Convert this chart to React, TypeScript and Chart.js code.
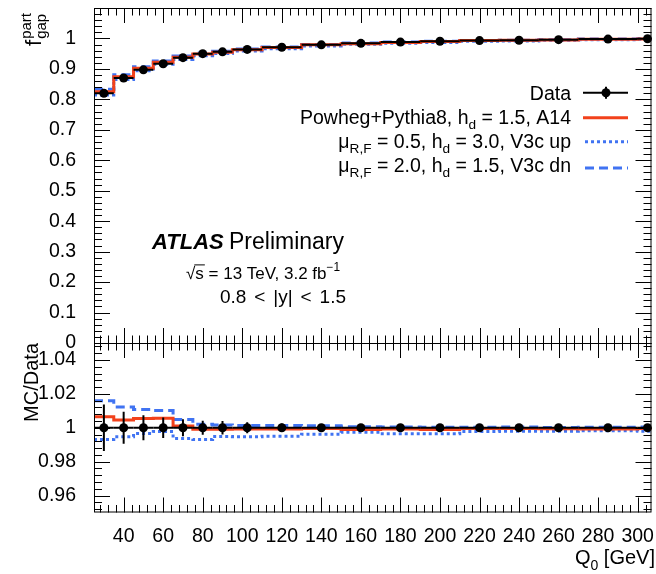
import React, { useEffect, useRef } from "react";
import { Chart, registerables } from "chart.js";
Chart.register(...registerables);

const FONT = '"Liberation Sans", Arial, Helvetica, sans-serif';
const RED = "#f2411b";
const BLUE = "#4073f2";

// ---- data ----
const binEdges = [25, 35, 45, 55, 65, 75, 85, 95, 110, 130, 150, 170, 190, 210, 230, 250, 270, 300, 310];
const binCenters = [30, 40, 50, 60, 70, 80, 90, 102.5, 120, 140, 160, 180, 200, 220, 240, 260, 285, 305];

const dataGap = [0.82, 0.87, 0.897, 0.917, 0.937, 0.95, 0.956, 0.964, 0.971, 0.979, 0.984, 0.988, 0.991, 0.993, 0.994, 0.996, 0.998, 0.999];
const dataGapErr = [0.011, 0.008, 0.0066, 0.0055, 0.0047, 0.004, 0.0038, 0.0032, 0.0024, 0.002, 0.0016, 0.0015, 0.0014, 0.0014, 0.0014, 0.0014, 0.0012, 0.0015];
const powhegGap = [0.825, 0.874, 0.902, 0.922, 0.938, 0.949, 0.955, 0.963, 0.97, 0.979, 0.983, 0.987, 0.99, 0.993, 0.994, 0.995, 0.997, 0.998];
const upGap = [0.814, 0.865, 0.894, 0.915, 0.931, 0.943, 0.951, 0.959, 0.966, 0.975, 0.981, 0.984, 0.987, 0.991, 0.992, 0.994, 0.996, 0.997];
const dnGap = [0.833, 0.881, 0.907, 0.926, 0.942, 0.952, 0.958, 0.965, 0.972, 0.98, 0.985, 0.988, 0.991, 0.993, 0.994, 0.996, 0.998, 0.999];

const dataRatio = [1, 1, 1, 1, 1, 1, 1, 1, 1, 1, 1, 1, 1, 1, 1, 1, 1, 1];
const dataRatioErr = [0.0137, 0.0094, 0.0074, 0.006, 0.005, 0.0042, 0.004, 0.0033, 0.0025, 0.002, 0.0016, 0.0015, 0.0014, 0.0014, 0.0014, 0.0014, 0.0012, 0.0015];
const powhegRatio = [1.0065, 1.0045, 1.0055, 1.0056, 1.001, 0.9991, 0.9991, 0.9993, 0.9993, 0.9995, 0.999, 0.9992, 0.999, 0.9995, 0.9996, 0.9994, 0.9993, 0.9995];
const upRatio = [0.9931, 0.9947, 0.9966, 0.9978, 0.9937, 0.9931, 0.9948, 0.9947, 0.995, 0.9962, 0.9974, 0.9964, 0.9964, 0.9978, 0.998, 0.998, 0.9982, 0.998];
const dnRatio = [1.016, 1.0123, 1.0108, 1.0102, 1.0049, 1.002, 1.0016, 1.0014, 1.0014, 1.0012, 1.0006, 1.0005, 1.0003, 1.0003, 1.0004, 1.0002, 1.0003, 1.0004];

const xTickValues = [40, 60, 80, 100, 120, 140, 160, 180, 200, 220, 240, 260, 280, 300];
const yTopTickValues = [0, 0.1, 0.2, 0.3, 0.4, 0.5, 0.6, 0.7, 0.8, 0.9, 1];
const yTopTickLabels = ["0", "0.1", "0.2", "0.3", "0.4", "0.5", "0.6", "0.7", "0.8", "0.9", "1"];
const yRatioTickValues = [0.96, 0.98, 1, 1.02, 1.04];
const yRatioTickLabels = ["0.96", "0.98", "1", "1.02", "1.04"];

const legendLabels = [
  [{ t: "Data" }],
  [{ t: "Powheg+Pythia8, h" }, { t: "d", k: "sub" }, { t: " = 1.5, A14" }],
  [{ t: "\u03bc" }, { t: "R,F", k: "sub" }, { t: " = 0.5, h" }, { t: "d", k: "sub" }, { t: " = 3.0, V3c up" }],
  [{ t: "\u03bc" }, { t: "R,F", k: "sub" }, { t: " = 2.0, h" }, { t: "d", k: "sub" }, { t: " = 1.5, V3c dn" }],
];
const rapidityParts = ["0.8", "<", "|y|", "<", "1.5"];

type Seg = { t: string; k?: "sub" | "sup" };

function stepPts(vals: number[]) {
  const pts = vals.map((v, i) => ({ x: binEdges[i], y: v }));
  pts.push({ x: binEdges[binEdges.length - 1], y: vals[vals.length - 1] });
  return pts;
}

function fontFor(size: number, style = "") {
  return `${style}${size}px ${FONT}`;
}

function drawRich(ctx: CanvasRenderingContext2D, segs: Seg[], x: number, y: number, size: number, align: "left" | "right") {
  const widths = segs.map((s) => {
    ctx.font = fontFor(s.k ? size * 0.7 : size);
    return ctx.measureText(s.t).width;
  });
  const total = widths.reduce((a, b) => a + b, 0);
  let cx = align === "right" ? x - total : x;
  ctx.textAlign = "left";
  ctx.textBaseline = "alphabetic";
  segs.forEach((s, i) => {
    ctx.font = fontFor(s.k ? size * 0.7 : size);
    const dy = s.k === "sub" ? size * 0.28 : s.k === "sup" ? -size * 0.42 : 0;
    ctx.fillText(s.t, cx, y + dy);
    cx += widths[i];
  });
  return total;
}

function lineStyle(ctx: CanvasRenderingContext2D, color: string, w: number, dash: number[]) {
  ctx.strokeStyle = color;
  ctx.lineWidth = w;
  ctx.setLineDash(dash);
  ctx.lineCap = "butt";
}

const errorBarPlugin = {
  id: "errbars",
  beforeDatasetDraw(chart: any, args: any) {
    const ds = chart.data.datasets[args.index];
    if (!ds.isData) return;
    const ctx = chart.ctx as CanvasRenderingContext2D;
    const xs = chart.scales.x;
    const ys = chart.scales[ds.yAxisID];
    const a = chart.chartArea;
    const vals: number[] = ds.vals;
    const errs: number[] = ds.errs;
    ctx.save();
    ctx.beginPath();
    ctx.rect(a.left, a.top, a.right - a.left, a.bottom - a.top);
    ctx.clip();
    ctx.strokeStyle = "#000";
    ctx.setLineDash([]);
    ctx.lineWidth = 2;
    vals.forEach((v, i) => {
      const xl = xs.getPixelForValue(binEdges[i]);
      const xr = xs.getPixelForValue(binEdges[i + 1]);
      const xc = xs.getPixelForValue(binCenters[i]);
      const y = ys.getPixelForValue(v);
      ctx.beginPath();
      ctx.moveTo(xl, y);
      ctx.lineTo(xr, y);
      ctx.moveTo(xc, ys.getPixelForValue(v + errs[i]));
      ctx.lineTo(xc, ys.getPixelForValue(v - errs[i]));
      ctx.stroke();
    });
    ctx.restore();
  },
};

const framePlugin = {
  id: "frame",
  afterDatasetsDraw(chart: any) {
    const ctx = chart.ctx as CanvasRenderingContext2D;
    const xs = chart.scales.x;
    const yt = chart.scales.y;
    const yr = chart.scales.yr;
    const left = chart.chartArea.left;
    const right = chart.chartArea.right;
    ctx.save();
    ctx.strokeStyle = "#000";
    ctx.lineWidth = 1;
    ctx.setLineDash([]);
    ctx.strokeRect(left + 0.5, yt.top + 0.5, right - left - 1, yt.bottom - yt.top);
    ctx.strokeRect(left + 0.5, yr.top + 0.5, right - left - 1, yr.bottom - yr.top - 1);
    const MAJ = 15;
    const MIN = 7.5;
    ctx.beginPath();
    for (let k = 7; k * 4 <= 307; k++) {
      const v = k * 4;
      const px = Math.round(xs.getPixelForValue(v)) + 0.5;
      const len = v % 20 === 0 ? MAJ : MIN;
      const edges: [number, number][] = [
        [yt.top, 1],
        [yt.bottom, -1],
        [yr.top, 1],
        [yr.bottom, -1],
      ];
      edges.forEach(([y, d]) => {
        ctx.moveTo(px, y);
        ctx.lineTo(px, y + d * len);
      });
    }
    for (let k = 0; k <= 55; k++) {
      const v = k * 0.02;
      const py = Math.round(yt.getPixelForValue(v)) + 0.5;
      const len = k % 5 === 0 ? 16 : 8;
      ctx.moveTo(left, py);
      ctx.lineTo(left + len, py);
      ctx.moveTo(right, py);
      ctx.lineTo(right - len, py);
    }
    for (let k = 238; k <= 262; k++) {
      const v = k * 0.004;
      const py = Math.round(yr.getPixelForValue(v)) + 0.5;
      const len = k % 5 === 0 ? 16 : 8;
      ctx.moveTo(left, py);
      ctx.lineTo(left + len, py);
      ctx.moveTo(right, py);
      ctx.lineTo(right - len, py);
    }
    ctx.stroke();
    ctx.restore();
  },
};

const textPlugin = {
  id: "texts",
  afterDraw(chart: any) {
    const ctx = chart.ctx as CanvasRenderingContext2D;
    ctx.save();
    ctx.fillStyle = "#000";
    // legend
    const LS = 19.5;
    const rowY = [92.7, 116.7, 140.7, 164.9];
    legendLabels.forEach((segs, i) => {
      drawRich(ctx, segs as Seg[], 571, rowY[i] + 7, LS, "right");
    });
    const sx0 = 583;
    const sx1 = 628;
    lineStyle(ctx, "#000", 2, []);
    ctx.beginPath();
    ctx.moveTo(sx0, rowY[0]);
    ctx.lineTo(sx1, rowY[0]);
    ctx.moveTo(606, rowY[0] - 6);
    ctx.lineTo(606, rowY[0] + 6);
    ctx.stroke();
    ctx.beginPath();
    ctx.arc(606, rowY[0], 4.5, 0, Math.PI * 2);
    ctx.fill();
    lineStyle(ctx, RED, 3, []);
    ctx.beginPath();
    ctx.moveTo(sx0, rowY[1] + 1);
    ctx.lineTo(sx1, rowY[1] + 1);
    ctx.stroke();
    lineStyle(ctx, BLUE, 3, [3, 3]);
    ctx.beginPath();
    ctx.moveTo(sx0 + 2, rowY[2] + 1);
    ctx.lineTo(sx1, rowY[2] + 1);
    ctx.stroke();
    lineStyle(ctx, BLUE, 3, [9, 5]);
    ctx.beginPath();
    ctx.moveTo(sx0 + 2, rowY[3] + 3);
    ctx.lineTo(sx1, rowY[3] + 3);
    ctx.stroke();
    ctx.setLineDash([]);

    // ATLAS label
    ctx.textAlign = "left";
    ctx.textBaseline = "alphabetic";
    ctx.font = fontFor(22, "italic bold ");
    ctx.fillText("ATLAS", 152, 249);
    ctx.font = fontFor(23);
    ctx.fillText("Preliminary", 229, 249);

    // sqrt(s) line
    const s2 = 17;
    ctx.font = fontFor(s2);
    const cx = 186;
    const base2 = 278.5;
    const wRoot = ctx.measureText("\u221a").width;
    ctx.fillText("\u221a", cx, base2);
    const wS = ctx.measureText("s").width;
    ctx.fillText("s", cx + wRoot, base2);
    ctx.strokeStyle = "#000";
    ctx.lineWidth = 1;
    ctx.beginPath();
    ctx.moveTo(cx + wRoot - 1, base2 - s2 * 0.8);
    ctx.lineTo(cx + wRoot + wS + 1, base2 - s2 * 0.8);
    ctx.stroke();
    drawRich(ctx, [{ t: " = 13 TeV, 3.2 fb" }, { t: "\u22121", k: "sup" }], cx + wRoot + wS, base2, s2, "left");

    // rapidity line, spread pieces between 220 and 346
    ctx.font = fontFor(19);
    const pw = rapidityParts.map((p) => ctx.measureText(p).width);
    const totalW = pw.reduce((a, b) => a + b, 0);
    const gap = (346 - 220 - totalW) / (rapidityParts.length - 1);
    let rx = 220;
    ctx.textAlign = "left";
    rapidityParts.forEach((p, i) => {
      ctx.fillText(p, rx, 302.5);
      rx += pw[i] + gap;
    });

    // x title
    drawRich(ctx, [{ t: "Q" }, { t: "0", k: "sub" }, { t: " [GeV]" }], 655, 564, 20, "right");

    // y title ratio (rotated)
    ctx.save();
    ctx.translate(38, 343);
    ctx.rotate(-Math.PI / 2);
    drawRich(ctx, [{ t: "MC/Data" }], 0, 0, 20, "right");
    ctx.restore();

    // y title top (rotated), f^part_gap
    ctx.save();
    ctx.translate(41, 13);
    ctx.rotate(-Math.PI / 2);
    ctx.font = fontFor(22);
    const wf = ctx.measureText("f").width;
    ctx.font = fontFor(15);
    const wPart = ctx.measureText("part").width;
    const wGap = ctx.measureText("gap").width;
    const tot = wf + 1 + Math.max(wPart, wGap);
    const start = -tot;
    ctx.textAlign = "left";
    ctx.font = fontFor(22);
    ctx.fillText("f", start, 0);
    ctx.font = fontFor(15);
    ctx.fillText("part", start + wf + 1, -10);
    ctx.fillText("gap", start + wf + 1, 5);
    ctx.restore();

    ctx.restore();
  },
};

export default function App() {
  const ref = useRef<HTMLCanvasElement | null>(null);
  useEffect(() => {
    if (!ref.current) return;
    Chart.defaults.font.family = FONT;
    const tickFont = { family: FONT, size: 19.5 };
    const lineDs = (vals: number[], axis: string, color: string, dash: number[]) => ({
      type: "line" as const,
      data: stepPts(vals),
      yAxisID: axis,
      stepped: "before" as const,
      borderColor: color,
      borderWidth: 3,
      borderDash: dash,
      borderCapStyle: "butt" as const,
      pointRadius: 0,
      fill: false,
      clip: 0,
    });
    const dataDs = (vals: number[], errs: number[], axis: string) => ({
      type: "scatter" as const,
      data: binCenters.map((x, i) => ({ x, y: vals[i] })),
      yAxisID: axis,
      pointRadius: 4.5,
      pointBackgroundColor: "#000",
      pointBorderWidth: 0,
      showLine: false,
      isData: true,
      vals,
      errs,
    });
    const zeroPad = (s: any) => {
      s.paddingLeft = 0;
      s.paddingRight = 0;
      s.paddingTop = 0;
      s.paddingBottom = 0;
    };
    const chart = new Chart(ref.current, {
      type: "scatter",
      data: {
        datasets: [
          dataDs(dataGap, dataGapErr, "y"),
          dataDs(dataRatio, dataRatioErr, "yr"),
          lineDs(powhegGap, "y", RED, []),
          lineDs(upGap, "y", BLUE, [3, 3]),
          lineDs(dnGap, "y", BLUE, [9, 5]),
          lineDs(powhegRatio, "yr", RED, []),
          lineDs(upRatio, "yr", BLUE, [3, 3]),
          lineDs(dnRatio, "yr", BLUE, [9, 5]),
        ] as any,
      },
      options: {
        animation: false,
        responsive: false,
        maintainAspectRatio: false,
        events: [],
        layout: { padding: { top: 8, right: 3, left: 0, bottom: 0 } },
        plugins: { legend: { display: false }, tooltip: { enabled: false } },
        scales: {
          x: {
            type: "linear",
            position: "bottom",
            min: 25,
            max: 307,
            grid: { display: false },
            border: { display: false },
            afterBuildTicks: (s: any) => {
              s.ticks = xTickValues.map((v) => ({ value: v }));
            },
            afterFit: (s: any) => {
              s.height = 61.5;
              zeroPad(s);
            },
            ticks: {
              autoSkip: false,
              maxRotation: 0,
              minRotation: 0,
              padding: 4,
              color: "#000",
              font: tickFont,
              callback: (v: any) => String(v),
            },
          },
          y: {
            type: "linear",
            position: "left",
            stack: "main",
            stackWeight: 335,
            weight: 2,
            min: 0,
            max: 1.1,
            grid: { display: false },
            border: { display: false },
            afterBuildTicks: (s: any) => {
              s.ticks = yTopTickValues.map((v) => ({ value: v }));
            },
            afterFit: (s: any) => {
              s.width = 94;
              zeroPad(s);
            },
            ticks: {
              autoSkip: false,
              padding: 10,
              color: "#000",
              font: tickFont,
              callback: (_v: any, i: number) => yTopTickLabels[i],
            },
          },
          yr: {
            type: "linear",
            position: "left",
            stack: "main",
            stackWeight: 169.5,
            weight: 1,
            min: 0.95,
            max: 1.05,
            grid: { display: false },
            border: { display: false },
            afterBuildTicks: (s: any) => {
              s.ticks = yRatioTickValues.map((v) => ({ value: v }));
            },
            afterFit: (s: any) => {
              s.width = 94;
              zeroPad(s);
            },
            ticks: {
              autoSkip: false,
              padding: 10,
              color: "#000",
              font: tickFont,
              callback: (_v: any, i: number) => yRatioTickLabels[i],
            },
          },
        },
      } as any,
      plugins: [errorBarPlugin, framePlugin, textPlugin],
    });
    return () => chart.destroy();
  }, []);
  return (
    <div style={{ position: "fixed", left: 0, top: 0, width: 656, height: 574, background: "#fff" }}>
      <canvas ref={ref} width={656} height={574} style={{ width: 656, height: 574, display: "block" }} />
    </div>
  );
}
